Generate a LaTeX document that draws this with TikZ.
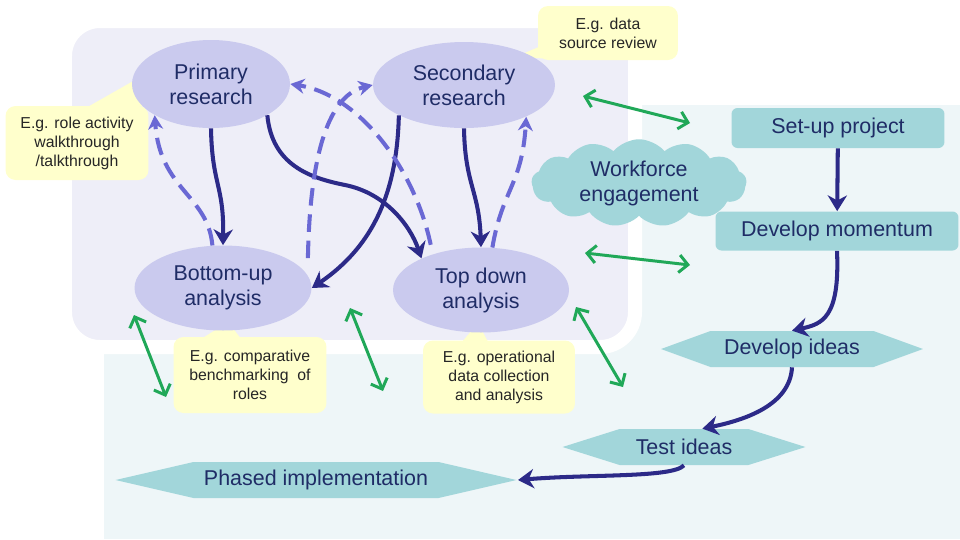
\documentclass[tikz,border=0pt]{standalone}
\usepackage{fontspec}
\setmainfont{Liberation Sans}
\usepackage{xcolor}
\usetikzlibrary{shapes,arrows.meta,calc,positioning}

\definecolor{navy}{HTML}{2C2A88}
\definecolor{textblue}{HTML}{1F2C66}
\definecolor{dashblue}{HTML}{6A68D4}
\definecolor{ovalfill}{HTML}{CACAEE}
\definecolor{lavback}{HTML}{EEEEF8}
\definecolor{cyanback}{HTML}{EEF6F8}
\definecolor{tealfill}{HTML}{A2D6DA}
\definecolor{notefill}{HTML}{FFFFCC}
\definecolor{linkgreen}{HTML}{20A858}

\begin{document}
\begin{tikzpicture}[
      x = 0.02cm, y = -0.02cm,
      > = {Stealth[length=9pt,width=11pt]},
      font = \fontsize{12.2}{14.2}\selectfont
    ]
    \tikzstyle{study node} = [ellipse, fill=ovalfill, text=textblue, align=center, inner sep=1pt]
    \tikzstyle{stage box} = [rectangle, rounded corners=0.12cm, fill=tealfill, text=textblue, minimum height=0.8cm]
    \tikzstyle{stage hex} = [signal, signal to=west and east, fill=tealfill, text=textblue, minimum height=0.72cm, inner sep=0pt]
    \tikzstyle{note box} = [rectangle, rounded corners=0.2cm, fill=notefill, text=black!85, align=center, font=\fontsize{9}{10.8}\selectfont]
    \tikzstyle{flow line} = [->, navy, line width=2.3pt]
    \tikzstyle{back line} = [-{Stealth[length=8pt,width=8.5pt]}, dashblue, line width=2.3pt, dash pattern=on 10pt off 5pt]
    \tikzstyle{link line} = [{Straight Barb[length=5pt,width=10pt]}-{Straight Barb[length=5pt,width=10pt]}, linkgreen, line width=1.7pt]
    \useasboundingbox (0,0) rectangle (960,539);
    % backgrounds
    \fill[cyanback] (104,105) rectangle (960,539);
    \filldraw[fill=lavback, draw=white, line width=0.28cm, rounded corners=0.7cm] (65,21) rectangle (635,347);
    % callouts
    \node[note box, minimum width=2.86cm, minimum height=1.48cm] (walk) at (77,143) {E.g. role activity\\walkthrough\\/talkthrough};
    \fill[notefill] ($(walk.north west)+(83,1)$) -- (135,80) -- ($(walk.north west)+(137,1)$) -- cycle;
    \node[note box, minimum width=2.8cm, minimum height=1.08cm] (source) at (608,33) {E.g. data\\source review};
    \fill[notefill] ($(source.south west)+(5,-15)$) -- (515,57) -- ($(source.south west)+(25,-1)$) -- cycle;
    \node[note box, minimum width=3.06cm, minimum height=1.52cm] (bench) at (250,375) {E.g. comparative\\benchmarking \ of\\roles};
    \fill[notefill] ($(bench.north west)+(30,1)$) -- (228,322) -- ($(bench.north west)+(67,1)$) -- cycle;
    \node[note box, minimum width=3.04cm, minimum height=1.46cm] (ops) at (499,377) {E.g. operational\\data collection\\and analysis};
    \fill[notefill] ($(ops.north west)+(40,1)$) -- (478,323) -- ($(ops.north west)+(65,1)$) -- cycle;
    % research and analysis
    \node[study node, minimum width=3.16cm, minimum height=1.76cm] (prim) at (211,84) {Primary\\research};
    \node[study node, minimum width=3.64cm, minimum height=1.72cm] (sec) at (464,85) {Secondary\\research};
    \node[study node, minimum width=3.54cm, minimum height=1.7cm] (bot) at (223,288) {Bottom-up\\analysis};
    \node[study node, minimum width=3.52cm, minimum height=1.7cm] (td) at (481,290) {Top down\\analysis};
    \node[cloud, cloud puffs=13, cloud puff arc=100, aspect=2.4, fill=tealfill, text=textblue, align=center, inner sep=0pt, minimum width=4.3cm, minimum height=1.75cm] (crowd) at (639,183) {Workforce\\engagement};
    % project stages
    \node[stage box, minimum width=4.26cm] (setup) at (838,128) {Set-up project};
    \node[stage box, minimum width=4.86cm, minimum height=0.78cm] (momentum) at (837,231) {Develop momentum};
    \node[stage hex, minimum width=5.24cm, signal pointer angle=40] (ideas) at (792,349) {Develop ideas};
    \node[stage hex, minimum width=4.86cm, signal pointer angle=35] (test) at (684,447) {Test ideas};
    \node[stage hex, minimum width=8.02cm, signal pointer angle=26] (phased) at (316,480) {Phased implementation};
    % engagement links
    \coordinate (l1a) at (583,96);
    \coordinate (l1b) at (690,123);
    \coordinate (l2a) at (585,253);
    \coordinate (l2b) at (690,265);
    \coordinate (l3a) at (134,315);
    \coordinate (l3b) at (166,397);
    \coordinate (l4a) at (350,308);
    \coordinate (l4b) at (383,391);
    \coordinate (l5a) at (576,307);
    \coordinate (l5b) at (623,387);
    \draw[link line] (l1a) -- (l1b);
    \draw[link line] (l2a) -- (l2b);
    \draw[link line] (l3a) -- (l3b);
    \draw[link line] (l4a) -- (l4b);
    \draw[link line] (l5a) -- (l5b);
    % solid flow
    \draw[flow line] (prim.south) .. controls (212,185) and (224,185) .. (bot.north);
    \draw[flow line] (prim.-29) .. controls (272,165) and (310,178) .. (345,185) .. controls (385,193) and (410,225) .. (td.152);
    \draw[flow line] (sec.-155) .. controls (397,190) and (375,245) .. (bot.east);
    \draw[flow line] (sec.south) .. controls (465,185) and (479,190) .. (td.north);
    \draw[flow line] (setup) -- (momentum);
    \draw[flow line] (momentum.south) .. controls (840,318) and (822,324) .. (ideas.north);
    \draw[flow line] (ideas.south) .. controls (790,405) and (745,420) .. (test.45);
    \draw[flow line] (test.south) .. controls (672,478) and (590,474) .. (phased.east);
    % dashed feedback
    \draw[back line] (bot.104) .. controls (208,195) and (160,190) .. (prim.-151);
    \draw[back line] ([shift={(14,-4)}]bot.20) .. controls (310,150) and (330,95) .. (sec.west);
    \draw[back line] ([shift={(0,-10)}]td.145) .. controls (415,170) and (360,95) .. (prim.east);
    \draw[back line] (td.75) .. controls (502,190) and (522,185) .. (sec.-27);
  \end{tikzpicture}
\end{document}
